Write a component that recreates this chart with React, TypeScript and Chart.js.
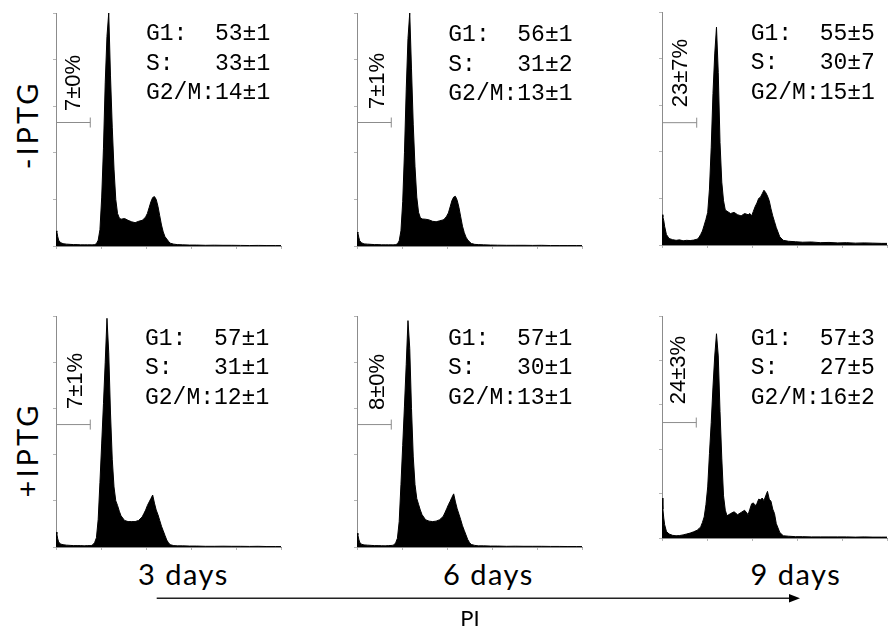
import React, { useEffect, useRef } from 'react';
import { Chart, registerables } from 'chart.js';

Chart.register(...registerables);

// PI fluorescence channels (shared x positions of the histogram bins)
const CHANNELS = [
  0, 1, 2, 3, 5,
  8, 12, 16, 20, 24, 28, 32, 36, 40,
  42, 44, 46, 48, 50, 52, 54, 56, 58, 60, 62, 64, 66, 68, 70, 72, 74,
  78, 82, 86, 90, 94, 98,
  100, 102, 104, 106, 108, 110, 112, 114, 116, 118, 120, 122, 124, 126, 128, 130,
  134, 138, 144, 152, 160,
  170, 180, 190, 200, 210, 220, 230, 240, 250,
  256,
];

// events (% of axis height) per channel
const NEG_3D = [
  6.5, 6, 4, 2.5, 1.5,
  1.0, 0.8, 0.7, 0.6, 0.6, 0.5, 0.5, 0.5, 0.5,
  0.5, 0.6, 1.0, 2.5, 7, 21, 42, 70, 90, 100, 73, 51, 33, 20, 14, 12, 11.5,
  11.8, 11, 10.4, 10, 10.6, 11,
  11.6, 12.5, 14, 16.5, 19, 20.8, 21.2, 20, 17, 13, 9, 6, 4, 3, 2, 1.2,
  0.8, 0.6, 0.5, 0.4, 0.4,
  0.3, 0.35, 0.3, 0.3, 0.25, 0.2, 0.25, 0.2, 0.2,
  0.2,
];
const NEG_6D = [
  6, 5.5, 3.8, 2.3, 1.4,
  0.9, 0.8, 0.7, 0.6, 0.6, 0.5, 0.5, 0.5, 0.5,
  0.5, 0.6, 0.9, 2.2, 6.5, 19, 40, 67, 89, 100, 76, 52, 34, 21, 14.5, 12.2, 11.6,
  11.5, 11.2, 10.6, 10.4, 10.8, 11.2,
  11.8, 12.8, 14.2, 16.8, 19.5, 21, 21.3, 19.6, 16.5, 12.5, 8.5, 5.8, 3.8, 2.6, 1.8, 1.1,
  0.7, 0.6, 0.5, 0.4, 0.35,
  0.3, 0.3, 0.3, 0.25, 0.3, 0.2, 0.2, 0.2, 0.2,
  0.2,
];
const NEG_9D = [
  13, 12, 10.5, 8, 4.5,
  2.8, 2.3, 2.0, 2.2, 1.8, 2.0, 1.9, 2.1, 2.5,
  3.2, 4.5, 6, 8.5, 11, 14, 24, 42, 65, 82, 93.5, 74, 44, 27, 19, 15, 14.5,
  13.5, 14, 13, 12.5, 13.5, 13,
  13.5, 12.5, 14.5, 16.5, 18, 20, 20.5, 22, 23.5, 22.5, 21, 19, 15.5, 12.5, 10, 7.5,
  3.5, 2.0, 1.6, 1.4, 1.2,
  1.3, 1.0, 1.1, 0.9, 1.0, 0.8, 0.9, 0.8, 0.7,
  0.7,
];
const POS_3D = [
  6.5, 5.5, 3.5, 2.2, 1.3,
  1.0, 0.8, 0.7, 0.6, 0.6, 0.6, 0.5, 0.6, 0.6,
  1.0, 2.0, 4, 12, 28, 45, 62, 80, 99, 84, 58, 38, 26, 20, 18, 15.5, 13.5,
  11.5, 11, 11, 11, 11.5, 13,
  14.5, 16, 18, 19.5, 21, 22.5, 19, 16, 14, 11.5, 9, 7, 5, 3, 1.8, 1.0,
  0.6, 0.5, 0.5, 0.4, 0.4,
  0.3, 0.3, 0.35, 0.3, 0.3, 0.25, 0.3, 0.2, 0.2,
  0.2,
];
const POS_6D = [
  6, 5.2, 3.4, 2.1, 1.2,
  0.9, 0.8, 0.7, 0.6, 0.6, 0.55, 0.5, 0.6, 0.7,
  0.9, 1.8, 3.8, 11, 27, 44, 61, 79, 98, 86, 60, 39, 27, 21, 18.5, 16, 14,
  11.8, 11.2, 11, 11.2, 11.8, 13.2,
  14.8, 16.5, 18.3, 19.8, 21.5, 23, 19.5, 16.5, 14.2, 11.8, 9.2, 7.2, 5.2, 3.2, 1.9, 1.1,
  0.7, 0.5, 0.5, 0.4, 0.4,
  0.3, 0.35, 0.3, 0.3, 0.3, 0.25, 0.25, 0.2, 0.2,
  0.2,
];
const POS_9D = [
  18, 13, 9, 6, 3,
  1.8, 1.2, 1.0, 1.1, 1.4, 1.8, 2.2, 2.8, 3.5,
  4.2, 5, 7, 9.5, 15, 23, 38, 52, 68, 82, 92, 82, 57, 36, 19, 12.5, 10,
  11, 11.8, 10.5, 11.5, 12.5, 10.5,
  13, 15.4, 15.8, 14.5, 15.5, 17.5, 17.2, 18, 16.8, 19, 21, 17.5, 16.5, 13, 11, 6.5,
  2.5, 1.0, 0.8, 0.6, 0.6,
  0.5, 0.5, 0.5, 0.5, 0.5, 0.4, 0.5, 0.4, 0.4,
  0.4,
];
const HISTOGRAMS = [NEG_3D, NEG_6D, NEG_9D, POS_3D, POS_6D, POS_9D];

// cell-cycle statistics (%)
const G1 = ['53±1', '56±1', '55±5', '57±1', '57±1', '57±3'];
const S_PHASE = ['33±1', '31±2', '30±7', '31±1', '30±1', '27±5'];
const G2M = ['14±1', '13±1', '15±1', '12±1', '13±1', '16±2'];

// sub-G1 gate
const GATE_LABELS = ['7±0%', '7±1%', '23±7%', '7±1%', '8±0%', '24±3%'];
const GATE_END = [39, 39, 39.5, 39, 39, 39];
const GATE_LEVEL = [53, 53, 52.5, 53, 53, 52];

const ROW_LABELS = ['-IPTG', '+IPTG'];
const DAY_LABELS = ['3 days', '6 days', '9 days'];
const AXIS_LABEL = 'PI';

// ---- layout (page pixels) ----
const BOXES = [
  { l: 56, t: 9, r: 287, b: 246 },
  { l: 357, t: 9, r: 588, b: 246 },
  { l: 662, t: 8, r: 893, b: 245 },
  { l: 56, t: 312, r: 287, b: 547 },
  { l: 357, t: 312, r: 588, b: 547 },
  { l: 662, t: 312, r: 893, b: 538 },
];
const STATS_POS = [
  [146, 34.5], [448.3, 35.5], [750.7, 34],
  [145, 339.2], [448, 339.2], [750.7, 339.2],
];
const GATE_LABEL_POS = [
  [73.3, 83.3], [377.3, 80.8], [680, 73.3],
  [75, 380.8], [377.3, 381.7], [678.3, 370],
];
const ROW_LABEL_POS = [[26, 125], [26, 450]];
const DAY_LABEL_X = [183.3, 488.4, 795.8];
const DAY_BASELINE = 585;

const AX = 6;
const PAD_TOP = 2;
const AXIS_GRAY = '#8c8c8c';
const TICK_GRAY = '#b5b5b5';

function Histogram({ idx }: { idx: number }) {
  const ref = useRef<HTMLCanvasElement | null>(null);
  const box = BOXES[idx];
  const w = box.r - box.l + AX;
  const h = box.b - box.t + AX + PAD_TOP;

  useEffect(() => {
    const counts = HISTOGRAMS[idx];
    const chart = new Chart(ref.current as HTMLCanvasElement, {
      type: 'line',
      data: {
        datasets: [
          {
            data: [
              { x: 0, y: GATE_LEVEL[idx] },
              { x: GATE_END[idx], y: GATE_LEVEL[idx] },
            ],
            borderColor: AXIS_GRAY,
            borderWidth: 1,
            pointStyle: 'line',
            rotation: 90,
            pointRadius: [0, 5],
            pointBorderColor: AXIS_GRAY,
            pointBorderWidth: 1,
            fill: false,
            tension: 0,
            order: 0,
          } as any,
          {
            data: CHANNELS.map((c, i) => ({ x: c, y: counts[i] })),
            fill: 'origin',
            backgroundColor: '#000',
            borderColor: '#000',
            borderWidth: 1,
            pointRadius: 0,
            tension: 0,
            order: 1,
          } as any,
        ],
      },
      options: {
        animation: false,
        responsive: false,
        maintainAspectRatio: false,
        events: [],
        layout: { padding: { top: PAD_TOP, left: 0, right: 0, bottom: 0 } },
        plugins: { legend: { display: false }, tooltip: { enabled: false } },
        scales: {
          x: {
            type: 'linear',
            min: 0,
            max: 256,
            ticks: { display: false, stepSize: 51.2 },
            grid: { display: true, drawOnChartArea: false, drawTicks: true, tickLength: 3, color: TICK_GRAY },
            border: { display: true, color: AXIS_GRAY, width: 1 },
            afterFit: (s: any) => { s.height = AX; },
          },
          y: {
            type: 'linear',
            min: 0,
            max: 100,
            ticks: { display: false, stepSize: 20 },
            grid: { display: true, drawOnChartArea: false, drawTicks: true, tickLength: 3, color: TICK_GRAY },
            border: { display: true, color: AXIS_GRAY, width: 1 },
            afterFit: (s: any) => { s.width = AX; },
          },
        },
      } as any,
    });
    return () => chart.destroy();
  }, [idx]);

  return (
    <canvas
      ref={ref}
      width={w}
      height={h}
      style={{ position: 'absolute', left: box.l - AX, top: box.t - PAD_TOP, width: w, height: h }}
    />
  );
}

const rotated = (x: number, y: number, extra: React.CSSProperties): React.CSSProperties => ({
  position: 'absolute',
  left: x,
  top: y,
  transform: 'translate(-50%, -50%) rotate(-90deg)',
  whiteSpace: 'nowrap',
  lineHeight: 1,
  color: '#000',
  ...extra,
});

export default function App() {
  useEffect(() => {
    document.body.style.margin = '0';
  }, []);
  return (
    <div
      style={{
        position: 'fixed',
        left: 0,
        top: 0,
        width: 888,
        height: 633,
        overflow: 'hidden',
        background: '#fff',
      }}
    >
      {BOXES.map((_, i) => (
        <Histogram key={i} idx={i} />
      ))}

      {BOXES.map((_, i) => (
        <div
          key={'s' + i}
          style={{
            position: 'absolute',
            left: STATS_POS[i][0],
            top: STATS_POS[i][1] - 14.3,
            fontFamily: '"Liberation Mono", monospace',
            fontSize: 23,
            lineHeight: '29.6px',
            whiteSpace: 'pre',
            color: '#000',
          }}
        >
          {`G1:  ${G1[i]}\nS:   ${S_PHASE[i]}\nG2/M:${G2M[i]}`}
        </div>
      ))}

      {GATE_LABELS.map((t, i) => (
        <div
          key={'g' + i}
          style={rotated(GATE_LABEL_POS[i][0], GATE_LABEL_POS[i][1], {
            fontFamily: '"Liberation Sans", Arial, sans-serif',
            fontSize: 22,
          })}
        >
          {t}
        </div>
      ))}

      {ROW_LABELS.map((t, i) => (
        <div
          key={'r' + i}
          style={rotated(ROW_LABEL_POS[i][0], ROW_LABEL_POS[i][1], {
            fontFamily: 'Lato, sans-serif',
            fontSize: 29,
            letterSpacing: 3,
          })}
        >
          {t}
        </div>
      ))}

      {DAY_LABELS.map((t, i) => (
        <div
          key={'d' + i}
          style={{
            position: 'absolute',
            left: DAY_LABEL_X[i],
            top: DAY_BASELINE - 25.7,
            transform: 'translateX(-50%)',
            fontFamily: 'Lato, sans-serif',
            fontSize: 29,
            lineHeight: 1,
            letterSpacing: 1.5,
            whiteSpace: 'nowrap',
            color: '#000',
          }}
        >
          {t}
        </div>
      ))}

      <svg
        width={888}
        height={633}
        style={{ position: 'absolute', left: 0, top: 0, pointerEvents: 'none' }}
      >
        <line x1={156.7} y1={598.3} x2={792} y2={598.3} stroke="#222" strokeWidth={1.5} />
        <polygon points="789,594 800,598.3 789,602.6" fill="#000" />
      </svg>

      <div
        style={{
          position: 'absolute',
          left: 470,
          top: 617.5,
          transform: 'translate(-50%, -50%)',
          fontFamily: 'Lato, sans-serif',
          fontSize: 22,
          lineHeight: 1,
          color: '#000',
        }}
      >
        {AXIS_LABEL}
      </div>
    </div>
  );
}
